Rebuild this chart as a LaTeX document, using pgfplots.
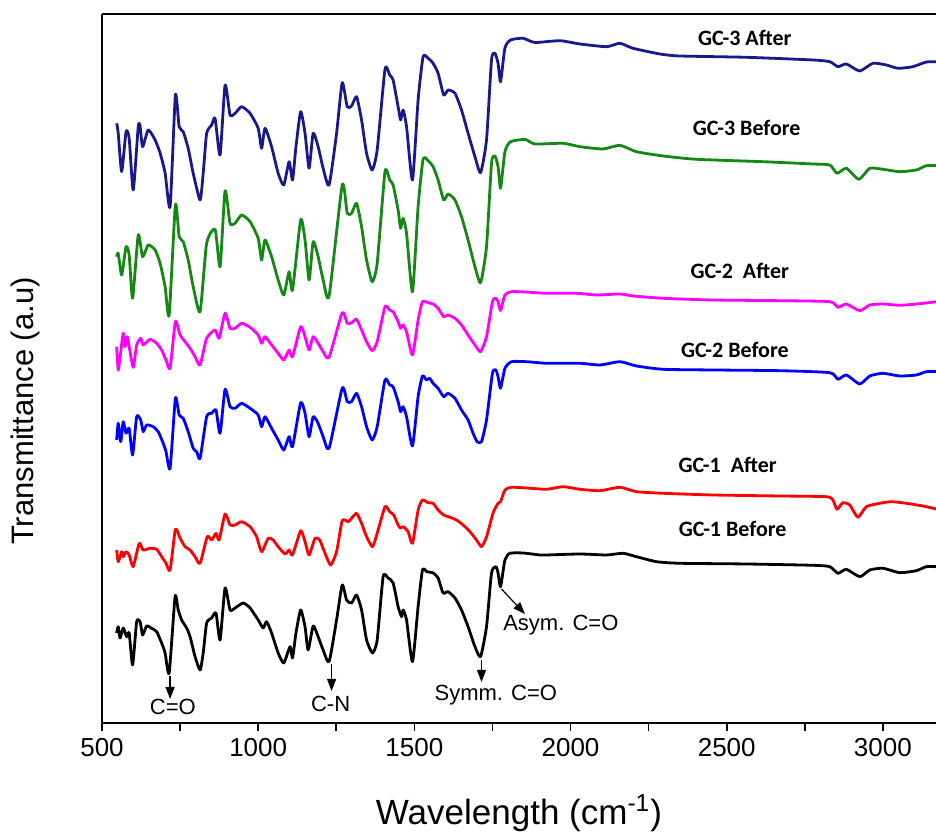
\documentclass[border=0pt]{standalone}
\usepackage{pgfplots}
\pgfplotsset{compat=1.18}
\usepackage{fontspec}
\setmainfont{Liberation Sans}
\newfontfamily\carlito{Carlito}
\usetikzlibrary{arrows.meta}
\definecolor{navyc}{RGB}{25,25,140}
\definecolor{greenc}{RGB}{20,135,20}
\definecolor{magc}{RGB}{255,0,255}
\definecolor{bluec}{RGB}{0,0,255}
\definecolor{redc}{RGB}{255,0,0}

\begin{document}
\begin{tikzpicture}
\begin{axis}[
  scale only axis, width=417pt, height=354.5pt,
  xmin=500, xmax=3170, ymin=111, ymax=820,
  axis lines=left, axis line style={-, line width=1pt},
  xtick={500,1000,...,3000}, minor x tick num=1, ytick=\empty,
  tick align=outside, major tick length=4pt, minor tick length=4pt,
  tick style={line width=0.8pt, black},
  /pgf/number format/1000 sep={}, /pgf/number format/assume math mode=true,
  ticklabel style={font=\fontsize{13}{13}\selectfont},
  xlabel={Wavelength (cm\textsuperscript{-1})},
  xlabel style={font=\fontsize{17.5}{17.5}\selectfont, at={(axis description cs:0.5,-0.143)}, anchor=base},
  ylabel={Transmittance (a.u)},
  ylabel style={font=\fontsize{15.5}{15.5}\selectfont, at={(axis description cs:-0.092,0.44)}, anchor=center},
  every axis plot/.append style={line width=1.4pt, line join=round, smooth, tension=0.35},
]
\coordinate (bl) at (rel axis cs:0,0);
\coordinate (tr) at (rel axis cs:1,1);
\draw[line width=1pt] (rel axis cs:0,1) -- (rel axis cs:1,1);

% GC-1 Before
\addplot[black] coordinates {(547,201) (552,207.3) (558,196) (568,206) (579,197.3) (587,201) (598,169) (611,212.3) (622,212.3) (630,199) (643,208) (659,205.7) (675,202.3) (691,191) (702,181) (715,161) (734,237.3) (744,224) (755,214) (771,206) (782,197.3) (798,177.3) (814,164) (824,181) (835,211) (851,216) (865,221) (878,194) (894,246) (910,224) (926,226) (952,231) (974,226) (1000,214) (1016,206) (1027,212.3) (1043,201) (1064,181) (1082,171) (1102,187.3) (1110,176) (1121,201) (1136,224) (1150,207.3) (1160,184) (1176,208) (1192,197.3) (1208,184) (1227,172.3) (1251,214) (1269,249) (1283,234) (1299,231) (1315,239) (1331,224) (1347,194) (1366,181) (1381,194) (1400,257.3) (1416,256) (1432,251) (1448,227.3) (1459,217.3) (1464,224) (1475,214) (1494,172.3) (1512,227.3) (1526,264) (1540,262.3) (1560,261) (1576,256) (1592,241) (1608,242.3) (1630,236) (1651,224) (1672,207.3) (1694,187.3) (1712,177.3) (1731,207.3) (1747,261) (1761,267.3) (1768,261) (1776,247.3) (1790,274) (1806,280.7) (1848,281) (1902,279) (1923,279) (2030,280) (2115,279) (2168,280.7) (2211,277.3) (2275,272.3) (2350,270.7) (2563,270) (2776,268.7) (2830,267.3) (2856,260.7) (2883,264.7) (2926,257.3) (2958,264) (3000,265.7) (3054,261.3) (3107,263.3) (3139,267.3) (3175,267.3)};

% GC-1 After
\addplot[redc] coordinates {(547,284) (552,272.3) (563,282.3) (568,277.3) (577,282.3) (587,279) (600,267.3) (619,290.7) (632,284) (654,285.7) (675,284.7) (691,277.3) (705,270.7) (718,264) (735,304.7) (750,295.7) (766,287.3) (782,284) (798,277.3) (814,270.7) (837,297.3) (851,294) (865,300.7) (875,294) (894,320) (910,309) (926,309) (947,312.3) (974,307.3) (995,297.3) (1011,282.3) (1032,295.7) (1048,294) (1064,287.3) (1086,280) (1099,284) (1110,279) (1136,303.3) (1150,292.3) (1163,279) (1182,295.7) (1197,294) (1214,280.7) (1232,269) (1251,282.3) (1269,313.3) (1288,312.3) (1299,315.7) (1315,320.7) (1331,310.7) (1347,297.3) (1366,287.3) (1381,300.7) (1406,327.3) (1421,322.3) (1434,319) (1448,309) (1456,305.7) (1464,307.3) (1480,302.3) (1494,290.7) (1512,324) (1526,334) (1544,331.3) (1560,330.7) (1576,324) (1594,319) (1614,316.7) (1635,314) (1656,309) (1678,302.3) (1699,294) (1715,287.3) (1731,297) (1752,321) (1768,330.7) (1776,332.3) (1790,344) (1811,346.7) (1859,346) (1923,344.7) (1976,347.3) (2030,344.7) (2094,343.3) (2158,346.7) (2211,342.3) (2296,340.7) (2456,339) (2670,338) (2819,337.3) (2840,334) (2853,324.7) (2872,331.3) (2894,329) (2920,316.7) (2947,327.3) (2990,330.7) (3027,332.3) (3075,330.7) (3128,328) (3175,324.7)};

% GC-2 Before
\addplot[bluec] coordinates {(547,394) (552,410.7) (560,392.3) (568,412.3) (577,400.7) (587,405.7) (598,379) (611,417.3) (624,414) (632,402.3) (643,409) (664,407.3) (680,402.3) (696,390.7) (705,382.3) (718,365.7) (735,435.7) (747,419) (760,415.7) (776,402.3) (792,385.7) (803,382.3) (814,375.7) (835,417.3) (851,420.7) (865,424) (878,400.7) (894,444.7) (910,427.3) (926,425.7) (947,430.7) (974,425.7) (1000,419) (1011,407.3) (1022,417.3) (1043,405.7) (1064,394) (1082,384) (1099,397.3) (1110,387.3) (1136,431.3) (1150,420.7) (1163,397.3) (1176,417.3) (1192,410.7) (1208,397.3) (1227,385.7) (1269,445.7) (1285,432.3) (1299,432.3) (1315,440.7) (1331,427.3) (1347,407.3) (1365,394) (1381,407.3) (1406,454) (1421,449) (1432,447.3) (1448,432.3) (1456,422.3) (1464,427.3) (1475,417.3) (1494,388) (1512,437.3) (1526,458) (1539,454) (1549,455.7) (1560,450.7) (1576,445.7) (1594,437.3) (1608,440.7) (1630,435.7) (1651,424) (1672,414) (1688,400.7) (1701,392.3) (1715,392.3) (1731,414) (1750,460.7) (1761,464) (1768,457.3) (1776,445.7) (1790,465.7) (1811,472.3) (1859,472.3) (1923,470.7) (2030,470.7) (2094,469) (2158,472.3) (2211,468) (2296,464.7) (2456,464) (2670,463.3) (2830,461.3) (2856,454.7) (2883,459) (2926,450) (2958,458) (3000,460.7) (3054,458) (3107,459) (3139,462.3) (3175,462.3)};

% GC-2 After
\addplot[magc] coordinates {(547,487.3) (552,464) (560,482.3) (568,500.7) (574,487.3) (581,497.3) (587,487.3) (600,466.7) (611,489) (624,495.7) (632,489) (654,494.7) (675,490.7) (691,484) (705,474) (718,465.7) (735,512.3) (750,499) (766,492.3) (782,485.7) (798,477.3) (814,469) (835,495.7) (862,504) (875,495.7) (894,520.7) (910,505.7) (926,505.7) (947,510.7) (974,506.7) (1000,499) (1011,490.7) (1022,497.3) (1043,489) (1064,480.7) (1082,474) (1099,484) (1110,477.3) (1136,507.3) (1150,497.3) (1163,484) (1176,497.3) (1192,490.7) (1208,482.3) (1227,476.7) (1269,521.3) (1285,510.7) (1299,511.3) (1315,514.7) (1331,504) (1347,492.3) (1365,483.3) (1381,492.3) (1406,527.3) (1421,524) (1432,522.3) (1448,512.3) (1456,505.7) (1464,509) (1475,502.3) (1494,479) (1512,514) (1526,532.3) (1544,531.3) (1560,530) (1576,525.7) (1594,517.3) (1608,519) (1630,515.7) (1651,509) (1672,499) (1694,489) (1712,482.3) (1731,497.3) (1750,532.3) (1761,535.7) (1768,532.3) (1776,523.5) (1790,539) (1811,542.3) (1855,542) (1923,540.7) (2019,540.7) (2083,539) (2158,540) (2200,538) (2296,535.7) (2456,534) (2670,533.3) (2830,532.3) (2856,526.7) (2883,530) (2926,523.3) (2958,529) (3000,530) (3054,528.7) (3107,530) (3175,532.3)};

% GC-3 Before
\addplot[greenc] coordinates {(547,577.3) (552,580.7) (563,559) (577,587.3) (587,579) (598,535.7) (616,599) (630,577.3) (648,589) (670,584) (686,570.7) (702,547.3) (715,519) (735,629) (747,597.3) (760,592.3) (776,574) (792,547.3) (814,522.3) (835,590.7) (862,604.7) (878,567.3) (894,643.3) (910,610.7) (926,610.7) (947,619) (974,612.3) (1000,595.7) (1011,574) (1022,594) (1043,577.3) (1064,554) (1082,539) (1099,562.3) (1110,544) (1136,614) (1150,594) (1163,554) (1176,592.3) (1192,577.3) (1208,554) (1227,538) (1269,649) (1285,620.7) (1299,620.7) (1315,630.7) (1331,607.3) (1347,574) (1365,552.3) (1381,570.7) (1406,662.3) (1421,654) (1432,649) (1448,624) (1456,605.7) (1464,615.7) (1475,600.7) (1494,542.3) (1512,627.3) (1528,674.7) (1544,673.3) (1560,667.3) (1576,654) (1594,634) (1608,640) (1630,634) (1651,617.3) (1672,594) (1694,567.3) (1712,551.3) (1731,587.3) (1747,670.7) (1758,678) (1768,667.3) (1776,645.7) (1790,682.3) (1808,692.3) (1855,694.5) (1886,690) (1976,690.7) (2030,687.3) (2104,685) (2158,688.7) (2211,682.3) (2296,678) (2403,674.7) (2616,672.3) (2776,670) (2830,669) (2853,660.7) (2883,665.7) (2923,654.7) (2958,665.7) (3000,664.7) (3054,662.3) (3107,664) (3139,668.3) (3175,668.3)};

% GC-3 After
\addplot[navyc] coordinates {(547,710.7) (552,700.7) (563,662.3) (577,702.3) (587,695.7) (600,644) (616,707.3) (622,708) (630,687.3) (648,704) (670,694) (686,681) (702,661) (718,627.3) (735,739) (747,707.3) (760,702.3) (776,685.7) (792,660.7) (814,634) (824,660.7) (835,700.7) (851,709) (862,715.7) (878,679) (894,749) (910,719) (926,720.7) (947,727.3) (974,720.7) (1000,705.7) (1011,685.7) (1022,705.7) (1043,687.3) (1064,660.7) (1082,649) (1099,672.3) (1110,654) (1121,687.3) (1136,722.3) (1150,700.7) (1163,665.7) (1176,700.7) (1192,687.3) (1208,665.7) (1227,649) (1251,700.7) (1269,751.3) (1285,727.3) (1299,728) (1315,737.3) (1331,714) (1347,680.7) (1365,664) (1381,684) (1406,764.7) (1421,759) (1432,754) (1448,727.3) (1456,714) (1464,724) (1475,707.3) (1494,654) (1512,734) (1528,777.3) (1544,775.7) (1560,770.7) (1576,760.7) (1594,739) (1608,744) (1630,740.7) (1651,724) (1672,700.7) (1694,677.3) (1712,661.3) (1731,694) (1747,774) (1758,780.7) (1768,770.7) (1776,752.3) (1790,786) (1808,794) (1848,795.7) (1886,791.5) (1966,793.3) (2030,790) (2115,787.3) (2158,790.7) (2200,785.7) (2286,780) (2350,778) (2563,776.7) (2776,774) (2830,772.3) (2856,767.3) (2883,770) (2926,763) (2968,770.7) (3011,769) (3048,765.7) (3096,767.3) (3139,772) (3175,772.3)};

% sample labels
\begin{scope}[every node/.style={font=\carlito\bfseries\fontsize{11}{11}\selectfont}]
\node at (axis cs:2558,796) {GC-3 After};
\node at (axis cs:2564,706) {GC-3 Before};
\node at (axis cs:2542,563) {GC-2~~After};
\node at (axis cs:2526,484) {GC-2 Before};
\node at (axis cs:2503,369) {GC-1~~After};
\node at (axis cs:2519,305) {GC-1 Before};
\end{scope}

% band assignments
\begin{scope}[every node/.style={font=\fontsize{11}{11}\selectfont}]
\draw[-{Triangle[width=4.5pt,length=6pt]}, line width=0.6pt] (axis cs:718,158) -- (axis cs:718,135);
\node at (axis cs:727,127) {C=O};
\draw[-{Triangle[width=4.5pt,length=6pt]}, line width=0.6pt] (axis cs:1235,170) -- (axis cs:1235,143);
\node at (axis cs:1232,130) {C-N};
\draw[-{Triangle[width=4.5pt,length=6pt]}, line width=0.6pt] (axis cs:1715,174) -- (axis cs:1715,152);
\node at (axis cs:1761,139) {Symm. C=O};
\draw[-{Triangle[width=4.5pt,length=6pt]}, line width=0.6pt] (axis cs:1779,245) -- (axis cs:1854,220);
\node at (axis cs:1969,209) {Asym. C=O};
\end{scope}
\end{axis}
\pgfresetboundingbox
\path[use as bounding box] ([xshift=-51pt,yshift=-55.5pt]bl) rectangle ([yshift=7pt]tr);
\end{tikzpicture}
\end{document}
